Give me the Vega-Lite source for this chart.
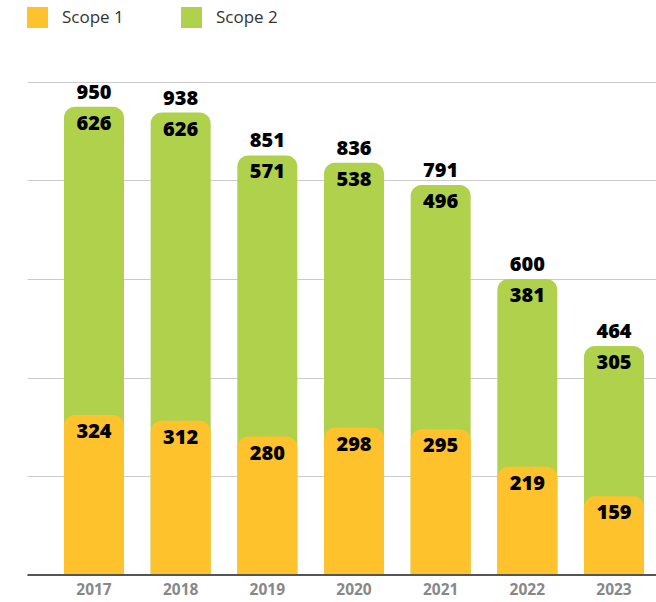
{
  "$schema": "https://vega.github.io/schema/vega-lite/v6.json",
  "width": 629,
  "height": 492.5,
  "autosize": {"type": "none"},
  "padding": {"left": 27, "top": 82, "right": 0, "bottom": 27},
  "background": "white",
  "config": {"view": {"stroke": null}, "font": "Open Sans"},
  "data": {
    "values": [
      {"year": "2017", "series": "Scope 2", "value": 626, "top": 950},
      {"year": "2018", "series": "Scope 2", "value": 626, "top": 938},
      {"year": "2019", "series": "Scope 2", "value": 571, "top": 851},
      {"year": "2020", "series": "Scope 2", "value": 538, "top": 836},
      {"year": "2021", "series": "Scope 2", "value": 496, "top": 791},
      {"year": "2022", "series": "Scope 2", "value": 381, "top": 600},
      {"year": "2023", "series": "Scope 2", "value": 305, "top": 464},
      {"year": "2017", "series": "Scope 1", "value": 324, "top": 324},
      {"year": "2018", "series": "Scope 1", "value": 312, "top": 312},
      {"year": "2019", "series": "Scope 1", "value": 280, "top": 280},
      {"year": "2020", "series": "Scope 1", "value": 298, "top": 298},
      {"year": "2021", "series": "Scope 1", "value": 295, "top": 295},
      {"year": "2022", "series": "Scope 1", "value": 219, "top": 219},
      {"year": "2023", "series": "Scope 1", "value": 159, "top": 159}
    ]
  },
  "encoding": {
    "x": {
      "field": "year",
      "type": "nominal",
      "sort": null,
      "scale": {"paddingInner": 0.3077, "paddingOuter": 0.2827, "align": 0.755},
      "axis": {
        "title": null,
        "labelAngle": 0,
        "ticks": false,
        "domainColor": "#555555",
        "domainWidth": 2,
        "labelColor": "#888888",
        "labelFont": "Open Sans",
        "labelFontWeight": "bold",
        "labelFontSize": 15.5,
        "labelPadding": 8,
        "zindex": 1
      }
    },
    "y": {
      "field": "top",
      "type": "quantitative",
      "stack": null,
      "scale": {"domain": [0, 1000], "nice": false},
      "axis": {
        "title": null,
        "labels": false,
        "ticks": false,
        "domain": false,
        "values": [0, 200, 400, 600, 800, 1000],
        "gridColor": "#cccccc",
        "gridWidth": 1
      }
    }
  },
  "layer": [
    {
      "mark": {"type": "bar", "cornerRadiusTopLeft": 11, "cornerRadiusTopRight": 11},
      "encoding": {
        "color": {
          "field": "series",
          "type": "nominal",
          "scale": {"domain": ["Scope 1", "Scope 2"], "range": ["#FEC22D", "#B0D14B"]},
          "legend": {
            "title": null,
            "orient": "none",
            "legendX": 0,
            "legendY": -75,
            "direction": "horizontal",
            "padding": 0,
            "symbolType": "square",
            "symbolSize": 441,
            "symbolStrokeWidth": 0,
            "labelFont": "Open Sans",
            "labelFontSize": 17,
            "labelColor": "#333333",
            "labelOffset": 14,
            "columnPadding": 57
          }
        }
      }
    },
    {
      "mark": {"type": "text", "baseline": "middle", "dy": 17, "fontSize": 20, "fontWeight": 800, "font": "Open Sans", "color": "black"},
      "encoding": {"text": {"field": "value", "type": "quantitative"}}
    },
    {
      "transform": [{"filter": "datum.series == 'Scope 2'"}],
      "mark": {"type": "text", "baseline": "alphabetic", "dy": -8, "fontSize": 20, "fontWeight": 800, "font": "Open Sans", "color": "black"},
      "encoding": {"text": {"field": "top", "type": "quantitative"}}
    }
  ]
}
